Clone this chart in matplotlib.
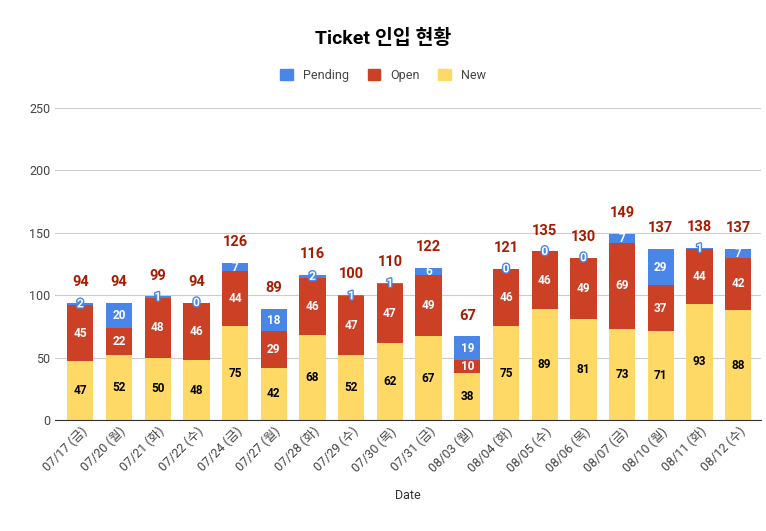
import matplotlib
matplotlib.use("Agg")
import matplotlib.pyplot as plt
import matplotlib.patheffects as pe
import numpy as np

plt.rcParams['font.family'] = ['Roboto', 'Noto Sans CJK KR', 'DejaVu Sans']

dates = ["07/17 (금)","07/20 (월)","07/21 (화)","07/22 (수)","07/24 (금)","07/27 (월)","07/28 (화)",
         "07/29 (수)","07/30 (목)","07/31 (금)","08/03 (월)","08/04 (화)","08/05 (수)","08/06 (목)",
         "08/07 (금)","08/10 (월)","08/11 (화)","08/12 (수)"]
new = [47,52,50,48,75,42,68,52,62,67,38,75,89,81,73,71,93,88]
open_ = [45,22,48,46,44,29,46,47,47,49,10,46,46,49,69,37,44,42]
pending = [2,20,1,0,7,18,2,1,1,6,19,0,0,0,7,29,1,7]

c_new, c_open, c_pend = "#ffd966", "#cc4125", "#4a86e8"
fig = plt.figure(figsize=(7.66, 5.31), dpi=100)
ax = fig.add_axes([0.072, 0.209, 0.922, 0.588])
x = np.arange(len(dates))
w = 0.68
n = np.array(new); o = np.array(open_); p = np.array(pending)
ax.bar(x, n, w, color=c_new, zorder=2)
ax.bar(x, o, w, bottom=n, color=c_open, zorder=2)
ax.bar(x, p, w, bottom=n+o, color=c_pend, zorder=2)
tot = n + o + p
stroke = [pe.withStroke(linewidth=2, foreground=c_pend)]
for i in x:
    ax.text(i, n[i]/2, str(n[i]), ha='center', va='center', fontsize=8.5, fontweight='bold', color='black', zorder=3)
    ax.text(i, n[i]+o[i]/2, str(o[i]), ha='center', va='center', fontsize=8.5, fontweight='bold', color='white', zorder=3)
    yp = n[i]+o[i]+p[i]/2
    if p[i] >= 5:
        ax.text(i, yp, str(p[i]), ha='center', va='center', fontsize=8.5, fontweight='bold', color='white', zorder=3)
    else:
        ax.text(i, yp, str(p[i]), ha='center', va='center', fontsize=8.5, fontweight='bold', color='white', zorder=3, path_effects=stroke)
    ax.text(i, tot[i]+11, str(tot[i]), ha='center', va='bottom', fontsize=10.5, fontweight='bold', color='#a61c00', zorder=3)
ax.set_ylim(0, 250)
ax.set_yticks(range(0, 251, 50))
ax.set_xlim(-0.65, len(dates)-0.4)
ax.grid(axis='y', color='#cccccc', linewidth=0.8, zorder=0)
for s in ['top','right','left']:
    ax.spines[s].set_visible(False)
ax.spines['bottom'].set_color('#333333')
ax.tick_params(axis='y', length=0, labelsize=9, colors='#444444')
ax.tick_params(axis='x', length=0, labelsize=9, colors='#444444')
ax.set_xticks(x)
ax.set_xticklabels(dates, rotation=45, ha='right', rotation_mode='anchor')
ax.set_xlabel("Date", fontsize=9, color='#333333', labelpad=10)
fig.text(0.5, 0.928, "Ticket 인입 현황", ha='center', va='center', fontsize=14, fontweight='bold')
from matplotlib.patches import Patch
handles = [Patch(color=c_pend, label='Pending'), Patch(color=c_open, label='Open'), Patch(color=c_new, label='New')]
fig.legend(handles=handles, loc='center', bbox_to_anchor=(0.5, 0.858), ncol=3, frameon=False,
           fontsize=9, handlelength=1.0, handleheight=1.0, columnspacing=1.5, labelcolor='#444444')
fig.savefig("out.png", dpi=100)
